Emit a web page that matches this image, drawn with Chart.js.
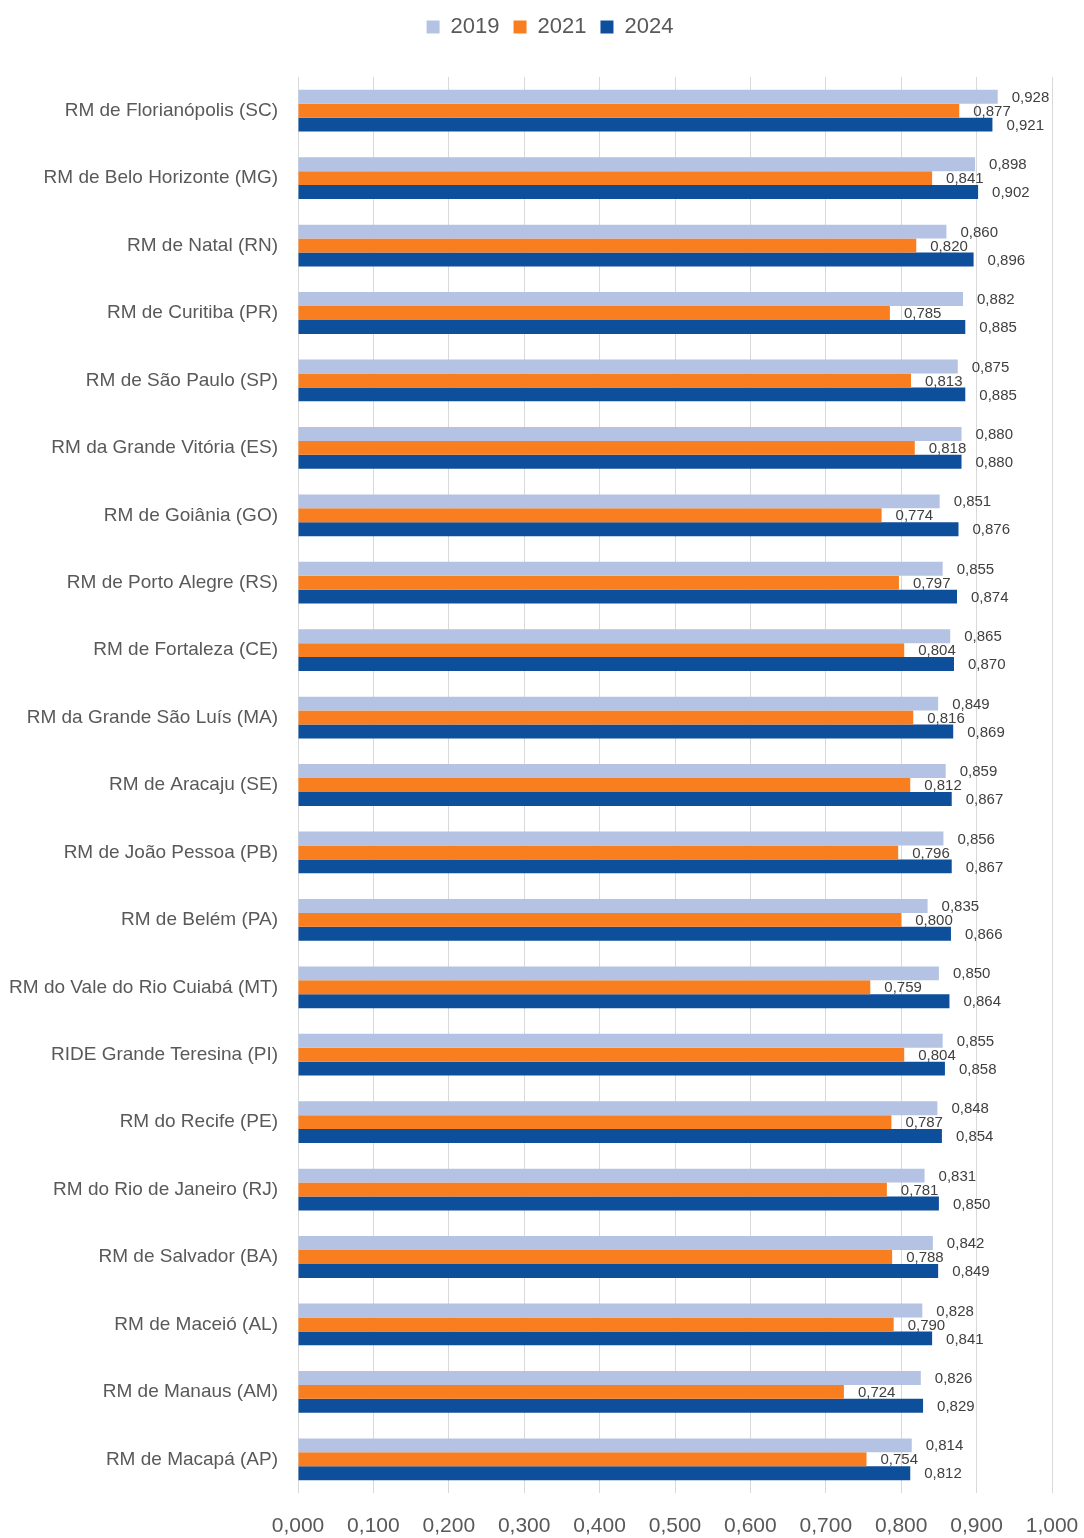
<!DOCTYPE html>
<html>
<head>
<meta charset="utf-8">
<script src="https://cdn.jsdelivr.net/npm/chart.js@4/dist/chart.umd.min.js"></script>
<style>
  html, body { margin: 0; padding: 0; background: #fff; }
  #wrap { width: 1084px; height: 1538px; position: relative; }
</style>
</head>
<body>
<div id="wrap"><canvas id="chart"></canvas></div>
<script>
const regions = [
    "RM de Florianópolis (SC)", "RM de Belo Horizonte (MG)", "RM de Natal (RN)",
    "RM de Curitiba (PR)", "RM de São Paulo (SP)", "RM da Grande Vitória (ES)",
    "RM de Goiânia (GO)", "RM de Porto Alegre (RS)", "RM de Fortaleza (CE)",
    "RM da Grande São Luís (MA)", "RM de Aracaju (SE)", "RM de João Pessoa (PB)",
    "RM de Belém (PA)", "RM do Vale do Rio Cuiabá (MT)", "RIDE Grande Teresina (PI)",
    "RM do Recife (PE)", "RM do Rio de Janeiro (RJ)", "RM de Salvador (BA)",
    "RM de Maceió (AL)", "RM de Manaus (AM)", "RM de Macapá (AP)"
];

const values2019 = [0.928, 0.898, 0.860, 0.882, 0.875, 0.880, 0.851, 0.855, 0.865, 0.849, 0.859,
    0.856, 0.835, 0.850, 0.855, 0.848, 0.831, 0.842, 0.828, 0.826, 0.814];
const values2021 = [0.877, 0.841, 0.820, 0.785, 0.813, 0.818, 0.774, 0.797, 0.804, 0.816, 0.812,
    0.796, 0.800, 0.759, 0.804, 0.787, 0.781, 0.788, 0.790, 0.724, 0.754];
const values2024 = [0.921, 0.902, 0.896, 0.885, 0.885, 0.880, 0.876, 0.874, 0.870, 0.869, 0.867,
    0.867, 0.866, 0.864, 0.858, 0.854, 0.850, 0.849, 0.841, 0.829, 0.812];

const seriesLabels = ["2019", "2021", "2024"];
const seriesColors = ["#b4c2e4", "#f97e1f", "#0e4f9b"];

const fontFamily = "'Liberation Sans', 'DejaVu Sans', sans-serif";

function formatComma(value) {
    return Number(value).toFixed(3).replace('.', ',');
}

// value labels just past the end of each bar, like the spreadsheet chart
const barLabels = {
    id: 'barLabels',
    afterDatasetsDraw(chart) {
        const ctx = chart.ctx;
        ctx.save();
        ctx.font = "15px " + fontFamily;
        ctx.fillStyle = "#404040";
        ctx.textAlign = "left";
        ctx.textBaseline = "middle";
        chart.data.datasets.forEach((ds, i) => {
            const meta = chart.getDatasetMeta(i);
            meta.data.forEach((bar, j) => {
                ctx.fillText(formatComma(ds.data[j]), bar.x + 14, bar.y + 1);
            });
        });
        ctx.restore();
    }
};

// fixed legend band height, legend nudged right to sit over the plot
const legendTweak = {
    id: 'legendTweak',
    beforeInit(chart) {
        const legend = chart.legend;
        const fit = legend.fit;
        legend.fit = function () {
            fit.apply(this, arguments);
            this.height = 77;
        };
        const draw = legend.draw;
        legend.draw = function () {
            this.ctx.save();
            this.ctx.translate(24, 2);
            draw.apply(this, arguments);
            this.ctx.restore();
        };
    }
};

const datasets = [values2019, values2021, values2024].map((data, i) => ({
    label: seriesLabels[i],
    data: data,
    backgroundColor: seriesColors[i],
    categoryPercentage: 0.62,
    barPercentage: 1.0
}));

new Chart(document.getElementById("chart").getContext("2d"), {
    type: "bar",
    data: { labels: regions, datasets },
    options: {
        indexAxis: 'y',
        responsive: true,
        maintainAspectRatio: false,
        animation: false,
        layout: { padding: { left: 0, right: 32, top: 0, bottom: 0 } },
        plugins: {
            legend: {
                display: true,
                position: 'top',
                labels: {
                    color: "#595959",
                    font: { family: fontFamily, size: 22 },
                    boxWidth: 13,
                    boxHeight: 13,
                    padding: 14
                }
            },
            tooltip: { enabled: false }
        },
        scales: {
            x: {
                min: 0,
                max: 1,
                ticks: {
                    stepSize: 0.1,
                    color: "#595959",
                    font: { family: fontFamily, size: 21 },
                    padding: 21,
                    callback: value => formatComma(value)
                },
                grid: { color: "#d9d9d9", drawTicks: false },
                border: { display: false },
                afterFit(scale) {
                    scale.height = 45;
                    scale.paddingLeft = 0;
                    scale.paddingRight = 0;
                }
            },
            y: {
                ticks: {
                    color: "#595959",
                    font: { family: fontFamily, size: 19 },
                    padding: 20
                },
                grid: { display: false, drawTicks: false },
                border: { display: false },
                afterFit(scale) { scale.width = 298; }
            }
        }
    },
    plugins: [barLabels, legendTweak]
});
</script>
</body>
</html>
